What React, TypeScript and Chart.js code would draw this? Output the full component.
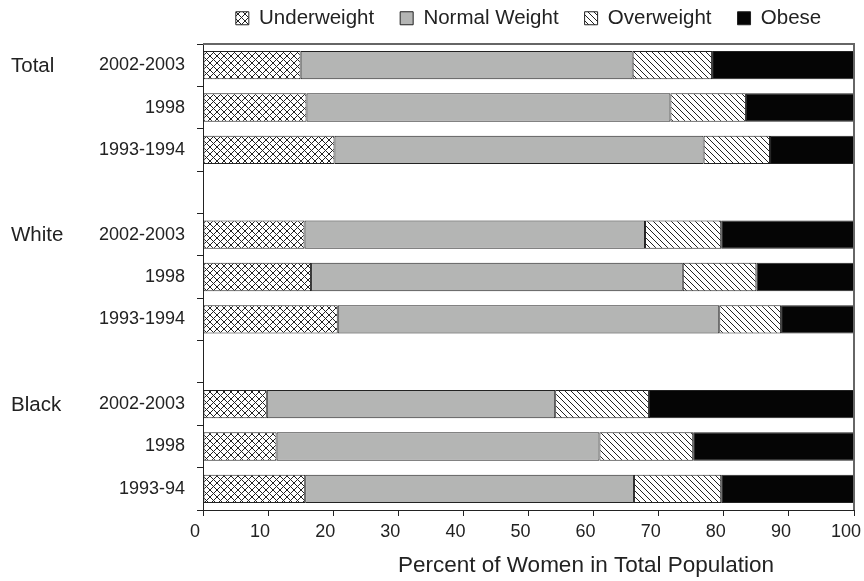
import React, { useEffect, useRef } from "react";
import { Chart, registerables } from "chart.js";

Chart.register(...registerables);

const yLabels = ["2002-2003", "1998", "1993-1994", "", "2002-2003", "1998", "1993-1994", "", "2002-2003", "1998", "1993-94"];
const groupLabels = ["Total", "White", "Black"];
const groupIndex = [0, 4, 8];
const xTicks = [0, 10, 20, 30, 40, 50, 60, 70, 80, 90, 100];
const xTitle = "Percent of Women in Total Population";

const underweight = [15, 15.9, 20.2, null, 15.6, 16.6, 20.7, null, 9.8, 11.3, 15.7];
const normalWeight = [51, 55.9, 56.7, null, 52.3, 57.1, 58.6, null, 44.3, 49.6, 50.5];
const overweight = [12.2, 11.6, 10.2, null, 11.7, 11.3, 9.5, null, 14.4, 14.4, 13.4];
const obese = [21.8, 16.6, 12.9, null, 20.4, 15.0, 11.2, null, 31.5, 24.7, 20.4];

const FONT = "'Liberation Sans', Arial, sans-serif";
const TEXT = "#222";

function makeCross(): CanvasPattern | string {
  const s = 7;
  const c = document.createElement("canvas");
  c.width = s; c.height = s;
  const g = c.getContext("2d");
  if (!g) return "#fff";
  g.fillStyle = "#fff";
  g.fillRect(0, 0, s, s);
  g.strokeStyle = "#222";
  g.lineWidth = 1;
  g.beginPath();
  for (const o of [-s, 0, s]) {
    g.moveTo(o, 0); g.lineTo(o + s, s);
    g.moveTo(o, s); g.lineTo(o + s, 0);
  }
  g.stroke();
  return g.createPattern(c, "repeat") || "#fff";
}

function makeStripe(): CanvasPattern | string {
  const s = 6;
  const c = document.createElement("canvas");
  c.width = s; c.height = s;
  const g = c.getContext("2d");
  if (!g) return "#fff";
  g.fillStyle = "#fff";
  g.fillRect(0, 0, s, s);
  g.strokeStyle = "#222";
  g.lineWidth = 1;
  g.beginPath();
  for (const o of [-s, 0, s]) {
    g.moveTo(o, 0); g.lineTo(o + s, s);
  }
  g.stroke();
  return g.createPattern(c, "repeat") || "#fff";
}

const framePlugin = {
  id: "frame",
  afterDatasetsDraw(chart: any) {
    const { ctx, chartArea } = chart;
    ctx.save();
    ctx.strokeStyle = "#666";
    ctx.lineWidth = 2;
    ctx.beginPath();
    ctx.moveTo(chartArea.left, chartArea.top);
    ctx.lineTo(chartArea.right, chartArea.top);
    ctx.lineTo(chartArea.right, chartArea.bottom);
    ctx.stroke();
    ctx.restore();
  },
  afterDraw(chart: any) {
    const { ctx } = chart;
    const y = chart.scales.y;
    ctx.save();
    ctx.fillStyle = TEXT;
    ctx.font = `20.5px ${FONT}`;
    ctx.textAlign = "left";
    ctx.textBaseline = "middle";
    groupLabels.forEach((g, i) => {
      ctx.fillText(g, 11, y.getPixelForValue(groupIndex[i]) + 1);
    });
    ctx.font = `22.5px ${FONT}`;
    ctx.textAlign = "center";
    ctx.fillText(xTitle, 586, 566);
    ctx.restore();
  },
};

export default function App() {
  const ref = useRef<HTMLCanvasElement | null>(null);
  useEffect(() => {
    if (!ref.current) return;
    const cross = makeCross();
    const stripe = makeStripe();
    const common = { borderColor: "#222", borderWidth: 1, borderSkipped: false as const, categoryPercentage: 1, barPercentage: 0.67 };
    const chart = new Chart(ref.current, {
      type: "bar",
      data: {
        labels: yLabels,
        datasets: [
          { label: "Underweight", data: underweight, backgroundColor: cross as any, ...common },
          { label: "Normal Weight", data: normalWeight, backgroundColor: "#b4b5b4", ...common },
          { label: "Overweight", data: overweight, backgroundColor: stripe as any, ...common },
          { label: "Obese", data: obese, backgroundColor: "#050505", ...common },
        ],
      },
      options: {
        indexAxis: "y",
        animation: false,
        responsive: false,
        maintainAspectRatio: false,
        layout: { padding: { top: -18, right: 10, bottom: 0, left: 0 } },
        plugins: {
          tooltip: { enabled: false },
          legend: {
            position: "top",
            fullSize: false,
            labels: {
              font: { family: FONT, size: 20.5 },
              color: TEXT,
              boxWidth: 13,
              boxHeight: 13,
              padding: 26,
            },
          },
          subtitle: {
            display: true,
            text: "",
            weight: 500,
            padding: 0,
            font: { size: 5.5, lineHeight: 1 },
          } as any,
        },
        scales: {
          x: {
            stacked: true,
            min: 0,
            max: 100,
            afterBuildTicks(scale: any) {
              scale.ticks = xTicks.map((v) => ({ value: v }));
            },
            afterFit(scale: any) {
              scale.height = 71;
              scale.paddingRight = 0;
              scale.paddingLeft = 0;
            },
            grid: { drawOnChartArea: false, tickLength: 6, color: "#222" },
            border: { color: "#222", width: 1 },
            ticks: { font: { family: FONT, size: 18 }, color: TEXT, padding: 5, maxRotation: 0, labelOffset: -8 },
          },
          y: {
            stacked: true,
            afterFit(scale: any) {
              scale.width = 203;
              scale.paddingTop = 0;
              scale.paddingBottom = 0;
            },
            grid: { drawOnChartArea: false, tickLength: 6, color: "#222", offset: true },
            border: { color: "#222", width: 1 },
            ticks: { font: { family: FONT, size: 18 }, color: TEXT, padding: 12, autoSkip: false },
          },
        },
      },
      plugins: [framePlugin],
    });
    return () => chart.destroy();
  }, []);
  return (
    <div style={{ position: "fixed", left: 0, top: 0, width: 864, height: 581, background: "#fff" }}>
      <canvas ref={ref} width={864} height={581} style={{ display: "block" }} />
    </div>
  );
}
